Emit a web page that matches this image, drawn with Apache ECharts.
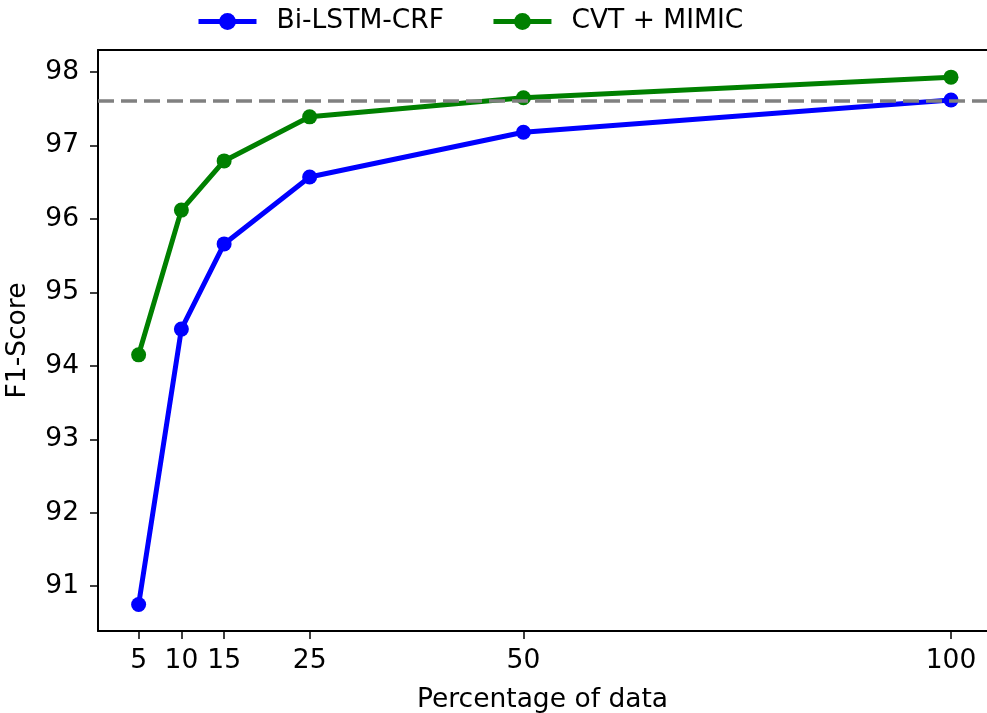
<!DOCTYPE html>
<html>
<head>
<meta charset="utf-8">
<script src="https://cdn.jsdelivr.net/npm/echarts@6/dist/echarts.min.js"></script>
<style>
  html, body { margin: 0; padding: 0; background: #fff; }
  #chart { width: 987px; height: 713px; }
</style>
</head>
<body>
<div id="chart"></div>
<script>
// data
const percentages = [5, 10, 15, 25, 50, 100];
const biLstmCrf = [90.75, 94.50, 95.66, 96.57, 97.18, 97.62];
const cvtMimic = [94.15, 96.12, 96.79, 97.39, 97.65, 97.93];
const baseline = 97.61;
const yTicks = [91, 92, 93, 94, 95, 96, 97, 98];

const font = 'DejaVu Sans';
const fs = 26.5;

function pairs(xs, ys) {
    return xs.map(function (x, i) { return [x, ys[i]]; });
}

let option = {
    backgroundColor: '#fff',
    animation: false,
    textStyle: { fontFamily: font },
    legend: {
        top: 8,
        left: 196,
        padding: 0,
        itemWidth: 58,
        itemHeight: 21,
        itemGap: 47,
        lineStyle: { width: 5 },
        textStyle: { fontFamily: font, fontSize: fs, color: '#000', padding: [0, 0, 0, 15] },
        data: ['Bi-LSTM-CRF', 'CVT + MIMIC']
    },
    grid: {
        left: 98,
        top: 50,
        right: 0,
        bottom: 82,
        outerBoundsMode: 'none',
        containLabel: false
    },
    xAxis: [{
        type: 'value',
        min: 0.25,
        max: 104.21,
        name: 'Percentage of data',
        nameLocation: 'middle',
        nameGap: 56,
        nameTextStyle: { fontFamily: font, fontSize: fs, color: '#000' },
        axisLine: { onZero: false, lineStyle: { color: '#000', width: 2 } },
        axisTick: { show: true, customValues: percentages, length: 8, lineStyle: { color: '#000', width: 1.5 } },
        axisLabel: { customValues: percentages, fontFamily: font, fontSize: fs, color: '#000', margin: 17 },
        splitLine: { show: false }
    }, {
        type: 'value',
        position: 'top',
        min: 0.25,
        max: 104.21,
        axisLine: { onZero: false, lineStyle: { color: '#000', width: 2 } },
        axisTick: { show: false },
        axisLabel: { show: false },
        splitLine: { show: false }
    }],
    yAxis: {
        type: 'value',
        min: 90.39,
        max: 98.30,
        name: 'F1-Score',
        nameLocation: 'middle',
        nameGap: 66,
        nameMoveOverlap: false,
        nameTextStyle: { fontFamily: font, fontSize: fs, color: '#000' },
        axisLine: { show: true, onZero: false, lineStyle: { color: '#000', width: 2 } },
        axisTick: { show: true, customValues: yTicks, length: 8, lineStyle: { color: '#000', width: 1.5 } },
        axisLabel: { customValues: yTicks, fontFamily: font, fontSize: fs, color: '#000', margin: 19 },
        splitLine: { show: false }
    },
    series: [
        {
            name: 'Bi-LSTM-CRF',
            type: 'line',
            data: pairs(percentages, biLstmCrf),
            symbol: 'circle',
            symbolSize: 15,
            color: '#0000ff',
            lineStyle: { width: 5, color: '#0000ff' },
            itemStyle: { color: '#0000ff' },
            z: 3,
            markLine: {
                silent: true,
                symbol: 'none',
                label: { show: false },
                lineStyle: { color: '#808080', type: [16, 7], width: 3.5 },
                data: [{ yAxis: baseline }]
            }
        },
        {
            name: 'CVT + MIMIC',
            type: 'line',
            data: pairs(percentages, cvtMimic),
            symbol: 'circle',
            symbolSize: 15,
            color: '#008000',
            lineStyle: { width: 5, color: '#008000' },
            itemStyle: { color: '#008000' },
            z: 3
        }
    ]
};

let chart = echarts.init(document.getElementById('chart'));
chart.setOption(option);
</script>
</body>
</html>
